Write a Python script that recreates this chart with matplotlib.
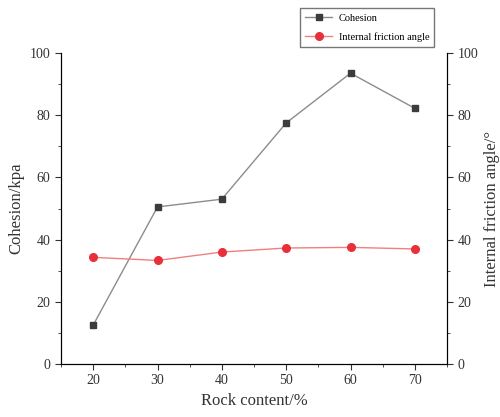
import numpy as np
import matplotlib.pyplot as plt
from matplotlib.ticker import MultipleLocator

plt.rcParams['font.family'] = ['Liberation Serif', 'DejaVu Serif']

rock = [20, 30, 40, 50, 60, 70]
cohesion = [12.5, 50.5, 53, 77.5, 93.5, 82.2]
friction = [34.3, 33.3, 36, 37.3, 37.5, 37.0]

fig = plt.figure(figsize=(5, 4.17), dpi=100)
ax = fig.add_axes([0.122, 0.127, 0.772, 0.746])
ax2 = ax.twinx()

l1, = ax.plot(rock, cohesion, color='#8c8c8c', lw=1, marker='s', ms=5,
              mfc='#3c3c3c', mec='#3c3c3c', label='Cohesion')
l2, = ax2.plot(rock, friction, color='#f08080', lw=1, marker='o', ms=5.5,
               mfc='#e8303a', mec='#e8303a', label='Internal friction angle')

for a in (ax, ax2):
    a.set_ylim(0, 100)
    a.yaxis.set_major_locator(MultipleLocator(20))
    a.yaxis.set_minor_locator(MultipleLocator(10))
    a.spines['top'].set_visible(False)
    a.tick_params(which='both', direction='out', labelsize=10, colors='#333333')
    a.tick_params(which='major', length=4)
    a.tick_params(which='minor', length=2)
ax.set_xlim(15, 75)
ax.xaxis.set_major_locator(MultipleLocator(10))
ax.xaxis.set_minor_locator(MultipleLocator(5))

ax.set_xlabel('Rock content/%', fontsize=12, color='#333333')
ax.set_ylabel('Cohesion/kpa', fontsize=12, color='#333333')
ax2.set_ylabel('Internal friction angle/°', fontsize=12, color='#333333')

fig.legend(handles=[l1, l2], loc='upper left', bbox_to_anchor=(0.6, 0.98),
           borderaxespad=0, fontsize=7.5, frameon=True, fancybox=False,
           edgecolor='#555555', handlelength=2.6, borderpad=0.5,
           labelspacing=0.9, handletextpad=0.6)

fig.savefig('out.png', dpi=100)
